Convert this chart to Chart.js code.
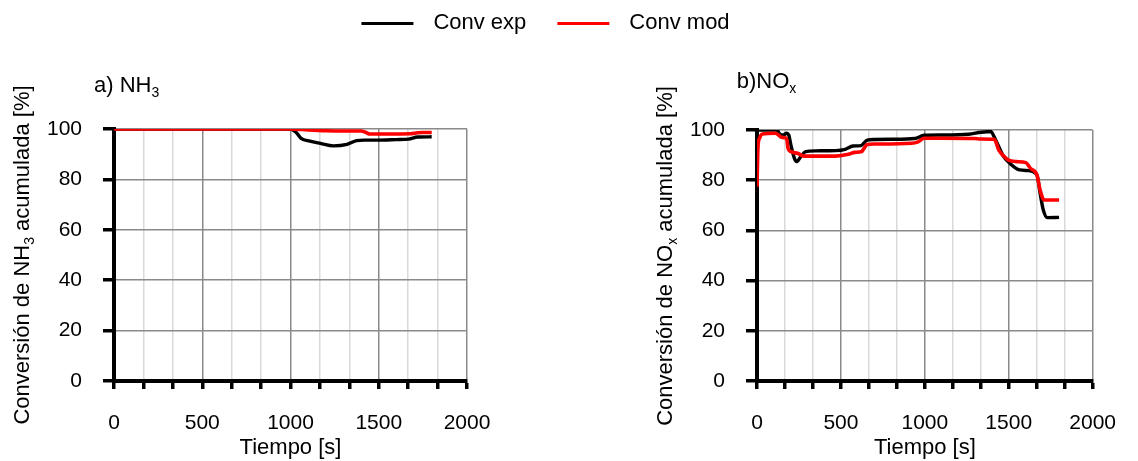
<!DOCTYPE html>
<html><head><meta charset="utf-8">
<script src="https://cdn.jsdelivr.net/npm/chart.js@4.4.1/dist/chart.umd.min.js"></script>
<style>
html,body{margin:0;padding:0;background:#fff;}
#wrap{position:relative;width:1138px;height:461px;overflow:hidden;background:#fff;}
canvas{position:absolute;}
</style></head><body>
<div id="wrap">
<canvas id="legend" width="1138" height="100" style="left:0;top:0"></canvas>
<canvas id="c1" width="569" height="411" style="left:0;top:50px"></canvas>
<canvas id="c2" width="569" height="411" style="left:569px;top:50px"></canvas>
</div>
<script>
// ---- data ----
const seriesNames = ['Conv exp', 'Conv mod'];
const seriesColors = ['#000000', '#ff0000'];
const xTickLabels = [0, 500, 1000, 1500, 2000];
const yTickLabels = [0, 20, 40, 60, 80, 100];
const xAxisTitle = 'Tiempo [s]';

// a) NH3
const nh3ExpTime = [0, 1000, 1030, 1060, 1110, 1170, 1243, 1320, 1375, 1420, 1500, 1600, 1670, 1720, 1800];
const nh3Exp     = [100, 100, 98.8, 96.3, 95.2, 94.3, 93.3, 93.9, 95.4, 95.6, 95.6, 95.8, 96.0, 96.8, 96.9];
const nh3ModTime = [0, 1000, 1100, 1200, 1300, 1400, 1425, 1450, 1550, 1680, 1720, 1750, 1800];
const nh3Mod     = [100, 100, 99.6, 99.3, 99.2, 99.2, 98.7, 98.0, 98.0, 98.1, 98.5, 98.6, 98.6];

// b) NOx
const noxExpTime = [0, 119, 138, 157, 176, 189, 204, 223, 236, 261, 289, 350, 468, 525, 572, 620, 657, 700, 800, 940, 996, 1100, 1260, 1336, 1394, 1413, 1441, 1470, 1507, 1564, 1620, 1668, 1687, 1706, 1730, 1800];
const noxExp     = [100, 100, 98.2, 98.0, 98.7, 98.0, 93.4, 88.7, 87.4, 89.4, 91.4, 91.7, 91.8, 92.3, 93.6, 93.8, 96.0, 96.2, 96.3, 96.6, 97.9, 98.0, 98.3, 99.1, 99.4, 97.3, 93.3, 89.4, 86.7, 84.1, 83.8, 82.1, 74.8, 68.1, 65.1, 65.2];
const noxModTime = [0, 6, 15, 32, 108, 129, 144, 176, 185, 200, 242, 280, 468, 545, 583, 620, 657, 700, 921, 960, 996, 1100, 1298, 1330, 1413, 1441, 1470, 1498, 1545, 1602, 1630, 1668, 1687, 1711, 1800];
const noxMod     = [77.4, 93.3, 96.7, 98.4, 98.7, 98.0, 97.1, 96.7, 92.7, 91.4, 90.7, 89.6, 89.6, 90.3, 91.1, 91.3, 94.2, 94.4, 94.7, 95.3, 96.7, 96.7, 96.6, 96.4, 96.3, 92.0, 89.6, 88.0, 87.4, 87.0, 84.7, 82.1, 76.1, 72.1, 72.1];

// titles (with subscripts)
const panelTitles = [
  [{t: 'a) NH'}, {t: '3', sub: true}],
  [{t: 'b)NO'}, {t: 'x', sub: true}]
];
const yAxisTitles = [
  [{t: 'Conversión de NH'}, {t: '3', sub: true}, {t: ' acumulada [%]'}],
  [{t: 'Conversión de NO'}, {t: 'x', sub: true}, {t: ' acumulada [%]'}]
];

// ---- rendering ----
const FF = "'Liberation Sans', Arial, Helvetica, sans-serif";
Chart.defaults.font.family = FF;
Chart.defaults.color = '#000';

function toXY(xs, ys) { return xs.map((x, i) => ({x: x, y: ys[i]})); }

function drawRich(ctx, segs, x, y, rot, align) {
  ctx.save();
  ctx.translate(x, y);
  ctx.rotate(rot);
  const big = '22px ' + FF, small = '14px ' + FF;
  let total = 0;
  segs.forEach(s => { ctx.font = s.sub ? small : big; total += ctx.measureText(s.t).width; });
  let cx = align === 'center' ? -total / 2 : 0;
  ctx.fillStyle = '#000';
  ctx.textBaseline = 'alphabetic';
  ctx.textAlign = 'left';
  segs.forEach(s => {
    ctx.font = s.sub ? small : big;
    ctx.fillText(s.t, cx, s.sub ? 5 : 0);
    cx += ctx.measureText(s.t).width;
  });
  ctx.restore();
}

function makeTitlePlugin(idx, pos) {
  return {
    id: 'richTitles' + idx,
    afterDraw(chart) {
      const ctx = chart.ctx;
      drawRich(ctx, panelTitles[idx], pos.tx, pos.ty, 0, 'left');
      drawRich(ctx, yAxisTitles[idx], pos.yx, pos.yy, -Math.PI / 2, 'center');
    }
  };
}

function isLabel(v, list) { return list.some(l => Math.abs(v - l) < 1e-6); }

function makeChart(id, idx, expX, expY, modX, modY, pad, pos) {
  return new Chart(document.getElementById(id), {
    type: 'line',
    data: {
      datasets: [
        {label: seriesNames[0], data: toXY(expX, expY), borderColor: seriesColors[0], backgroundColor: seriesColors[0],
         borderWidth: 3.4, pointRadius: 0, cubicInterpolationMode: 'monotone', order: 1},
        {label: seriesNames[1], data: toXY(modX, modY), borderColor: seriesColors[1], backgroundColor: seriesColors[1],
         borderWidth: 3.6, pointRadius: 0, cubicInterpolationMode: 'monotone', order: 0}
      ]
    },
    options: {
      responsive: false, animation: false, devicePixelRatio: 1,
      layout: {padding: pad},
      plugins: {legend: {display: false}, tooltip: {enabled: false}, title: {display: false}},
      scales: {
        x: {
          type: 'linear', min: 0, max: 2000,
          afterBuildTicks: s => { s.ticks = Array.from({length: 13}, (_, i) => ({value: i * 2000 / 12})); },
          afterFit: s => { s.height = 80; },
          ticks: {
            autoSkip: false, maxRotation: 0, padding: 22, font: {size: 21}, color: '#000',
            callback: v => { const l = xTickLabels.find(l => Math.abs(v - l) < 1e-6); return l === undefined ? '' : String(l); }
          },
          grid: {
            color: c => (c.tick && isLabel(c.tick.value, xTickLabels)) ? '#8a8a8a' : '#dadada',
            lineWidth: 1.5, tickLength: 8, tickColor: '#000', tickWidth: 3.5, drawTicks: true
          },
          border: {display: true, color: '#000', width: 4},
          title: {display: true, text: xAxisTitle, font: {size: 22}, color: '#000', padding: 0}
        },
        y: {
          type: 'linear', min: 0, max: 100,
          afterFit: s => { s.width = 114; },
          ticks: {
            stepSize: 10, padding: 21, font: {size: 21}, color: '#000',
            callback: v => isLabel(v, yTickLabels) ? String(v) : ''
          },
          grid: {
            color: c => (c.tick && isLabel(c.tick.value, yTickLabels)) ? '#8a8a8a' : '#dadada',
            lineWidth: 1.5, tickLength: 11, tickColor: '#000', tickWidth: 3.5, drawTicks: true
          },
          border: {display: true, color: '#000', width: 4}
        }
      }
    },
    plugins: [makeTitlePlugin(idx, pos)]
  });
}

makeChart('c1', 0, nh3ExpTime, nh3Exp, nh3ModTime, nh3Mod,
  {left: 0, right: 102, top: 79, bottom: 0},
  {tx: 94, ty: 42, yx: 28.5, yy: 205});
makeChart('c2', 1, noxExpTime, noxExp, noxModTime, noxMod,
  {left: 74, right: 28, top: 80, bottom: 0},
  {tx: 167.7, ty: 37.5, yx: 102.5, yy: 206});

// legend (shared, drawn by Chart.js legend)
function lineSample(color) {
  const c = document.createElement('canvas');
  c.width = 82; c.height = 3;
  const g = c.getContext('2d');
  g.fillStyle = color;
  g.fillRect(21, 0, 52, 3);
  return c;
}
const legendSamples = seriesColors.map(lineSample);
new Chart(document.getElementById('legend'), {
  type: 'line',
  data: {datasets: seriesNames.map((n, i) => ({label: n, data: [], borderColor: seriesColors[i], backgroundColor: seriesColors[i]}))},
  options: {
    responsive: false, animation: false, devicePixelRatio: 1,
    layout: {padding: {top: 2, right: 68}},
    scales: {x: {display: false}, y: {display: false}},
    plugins: {
      tooltip: {enabled: false},
      legend: {
        display: true, position: 'top', align: 'center',
        labels: {
          usePointStyle: true, pointStyleWidth: 82, padding: 10, font: {size: 22}, color: '#000',
          generateLabels: () => seriesNames.map((n, i) => ({
            text: n, pointStyle: legendSamples[i], fillStyle: seriesColors[i], strokeStyle: seriesColors[i],
            lineWidth: 0, hidden: false, datasetIndex: i, fontColor: '#000'
          }))
        }
      }
    }
  }
});
</script>
</body></html>
